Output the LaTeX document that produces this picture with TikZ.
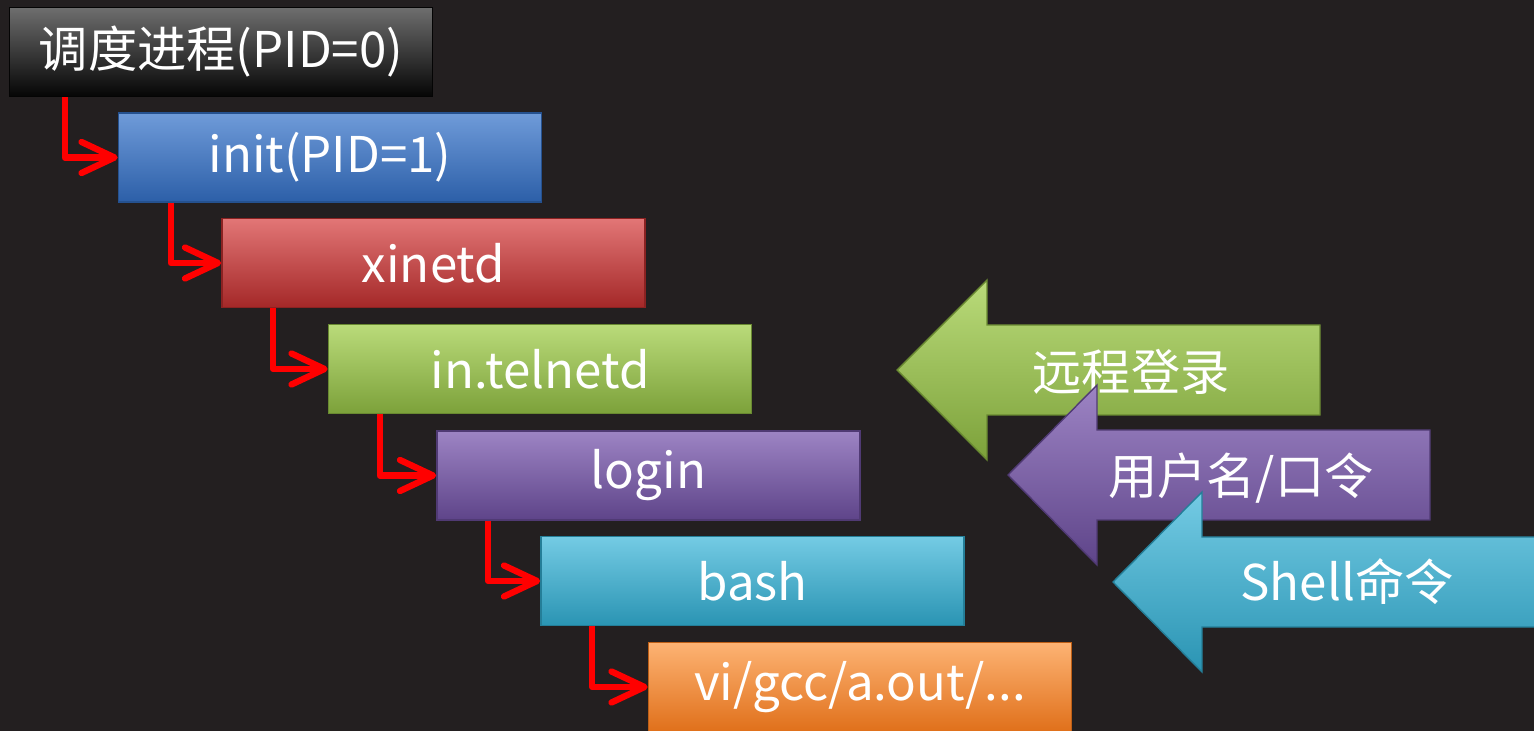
\documentclass[tikz,border=0pt]{standalone}
\usepackage{fontspec}
\setmainfont{Noto Sans CJK SC}
\usepackage{tikz}
\usetikzlibrary{arrows.meta}
\definecolor{bg}{HTML}{231F20}
\definecolor{blkT}{HTML}{6E6E6E}\definecolor{blkB}{HTML}{050505}
\definecolor{bluT}{HTML}{6F9BD9}\definecolor{bluB}{HTML}{2C5FA8}
\definecolor{redT}{HTML}{E27676}\definecolor{redB}{HTML}{A42828}
\definecolor{grnT}{HTML}{BADB7A}\definecolor{grnB}{HTML}{7CA13A}
\definecolor{purT}{HTML}{9D84C4}\definecolor{purB}{HTML}{5E4489}
\definecolor{cyaT}{HTML}{74CBE4}\definecolor{cyaB}{HTML}{2A94B3}
\definecolor{orgT}{HTML}{FDB374}\definecolor{orgB}{HTML}{E0701A}
\begin{document}
\begin{tikzpicture}[x=0.01cm,y=-0.01cm,
  proc/.style 2 args={minimum width=4.23cm, minimum height=0.89cm, inner sep=0pt,
    top color=#1, bottom color=#2, draw=#2!85!black, line width=0.4pt,
    text=white, font=\fontsize{14}{17}\selectfont},
  link/.style={red, line width=1.8pt, line join=round,
    -{Straight Barb[length=0.33cm,width=0.31cm,round]}},
  lbl/.style={text=white, font=\fontsize{14}{17}\selectfont}]
\useasboundingbox (0,0) rectangle (1534,731);
\clip (0,0) rectangle (1534,731);
\fill[bg] (0,0) rectangle (1534,731);
% process chain
\node[proc={blkT}{blkB}] (sched) at (221,52) {调度进程(PID=0)};
\node[proc={bluT}{bluB}] (init) at (330,157.5) {init(PID=1)};
\node[proc={redT}{redB}] (xinetd) at (433.5,263) {xinetd};
\node[proc={grnT}{grnB}] (telnetd) at (540,369) {in.telnetd};
\node[proc={purT}{purB}] (login) at (648.5,475.5) {login};
\node[proc={cyaT}{cyaB}] (bash) at (752.5,581) {bash};
\node[proc={orgT}{orgB}] (apps) at (860,687) {vi/gcc/a.out/...};
\draw[link] (sched.south west) ++(56,0) |- (init.west);
\draw[link] (init.south west) ++(53,0) |- (xinetd.west);
\draw[link] (xinetd.south west) ++(52,0) |- (telnetd.west);
\draw[link] (telnetd.south west) ++(52,0) |- (login.west);
\draw[link] (login.south west) ++(52,0) |- (bash.west);
\draw[link] (bash.south west) ++(52,0) |- (apps.west);
% input arrows
\draw[top color=grnT, bottom color=grnB, draw=grnB!85!black, line width=0.4pt]
  (897,370) -- (987,280) -- (987,325) -- (1320,325) -- (1320,415) -- (987,415) -- (987,460) -- cycle;
\node[lbl] (remote) at (1131,372) {远程登录};
\draw[top color=purT, bottom color=purB, draw=purB!85!black, line width=0.4pt]
  (1008,475) -- (1097,385) -- (1097,430) -- (1430,430) -- (1430,520) -- (1097,520) -- (1097,565) -- cycle;
\node[lbl] (user) at (1241,478) {用户名/口令};
\draw[top color=cyaT, bottom color=cyaB, draw=cyaB!85!black, line width=0.4pt]
  (1113,582) -- (1202,492) -- (1202,537) -- (1560,537) -- (1560,627) -- (1202,627) -- (1202,672) -- cycle;
\node[lbl] (shell) at (1347,582) {Shell命令};
\end{tikzpicture}
\end{document}
